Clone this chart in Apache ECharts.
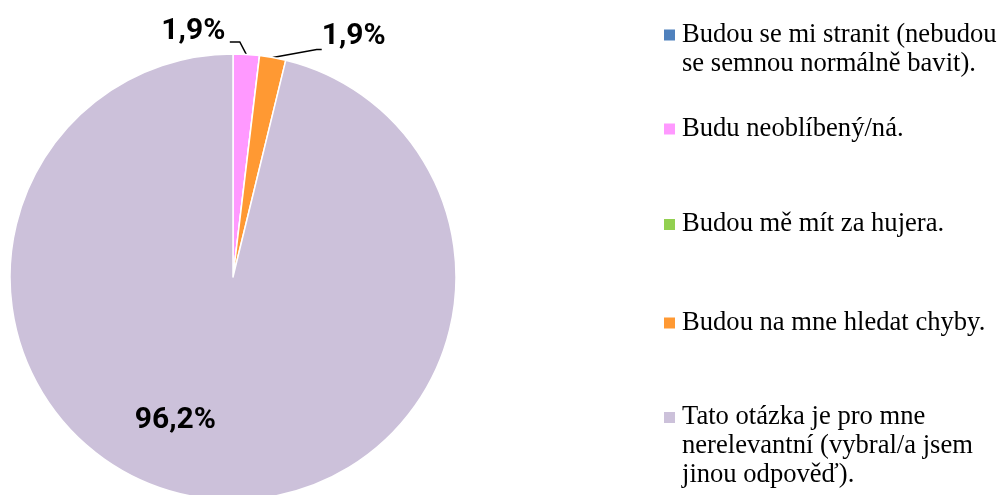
<!DOCTYPE html>
<html>
<head>
<meta charset="utf-8">
<script src="https://cdn.jsdelivr.net/npm/echarts@6/dist/echarts.min.js"></script>
<style>
  html, body { margin: 0; padding: 0; background: #fff; }
  #chart { width: 998px; height: 495px; }
</style>
</head>
<body>
<div id="chart"></div>
<script>
// Answer categories (line breaks as wrapped in the legend)
const categories = [
  'Budou se mi stranit (nebudou\nse semnou normálně bavit).',
  'Budu neoblíbený/ná.',
  'Budou mě mít za hujera.',
  'Budou na mne hledat chyby.',
  'Tato otázka je pro mne\nnerelevantní (vybral/a jsem\njinou odpověď).'
];
// Share of respondents, in percent
const shares = [0, 1.9, 0, 1.9, 96.2];
const colors = ['#4F81BD', '#FF99FF', '#92D050', '#FF9933', '#CCC1DA'];

// Legend layout: vertical centre of each entry's first line
const legendRowCenters = [35, 129, 224.5, 323, 417.5];
const LINE_H = 29;

const chart = echarts.init(document.getElementById('chart'), null, { renderer: 'canvas' });

const legends = categories.map((name, i) => {
  const n = name.split('\n').length;
  // pad with blank lines above so the marker sits beside the first line
  const textH = (2 * n - 1) * LINE_H;
  return {
    data: [name],
    orient: 'vertical',
    left: 662,
    top: legendRowCenters[i] - textH / 2,
    padding: 0,
    itemWidth: 13,
    itemHeight: 13,
    icon: 'rect',
    selectedMode: false,
    formatter: nm => '\n'.repeat(n - 1) + nm,
    textStyle: {
      fontFamily: 'Liberation Serif',
      fontSize: 26.6,
      lineHeight: LINE_H,
      color: '#000',
      padding: [0, 0, 0, 1]
    }
  };
});

const fmt = v => v.toFixed(1).replace('.', ',') + '%';

chart.setOption({
  animation: false,
  color: colors,
  legend: legends,
  series: [{
    type: 'pie',
    center: [233, 277],
    radius: 223,
    startAngle: 90,
    clockwise: true,
    minShowLabelAngle: 1,
    avoidLabelOverlap: false,
    itemStyle: { borderColor: '#fff', borderWidth: 1.5 },
    label: {
      show: true,
      formatter: p => fmt(p.value),
      fontFamily: 'Roboto',
      fontWeight: 'bold',
      fontSize: 30,
      color: '#000'
    },
    labelLine: {
      show: true,
      length: 12,
      length2: 10,
      lineStyle: { color: '#000', width: 1.5 }
    },
    labelLayout: function (p) {
      if (p.dataIndex === 4) {
        return { dx: -44, dy: 30 };
      }
      const pts = p.labelLinePoints;
      if (!pts || !pts.length) return {};
      const a = [pts[0][0], pts[0][1]];
      if (p.dataIndex === 1) {
        return {
          x: a[0] - 21, y: a[1] - 23, align: 'right', verticalAlign: 'middle',
          labelLinePoints: [a, [a[0] - 6.5, a[1] - 12.5], [a[0] - 16.5, a[1] - 12.5]]
        };
      }
      if (p.dataIndex === 3) {
        return {
          x: a[0] + 49, y: a[1] - 21, align: 'left', verticalAlign: 'middle',
          labelLinePoints: [a, [a[0] + 44, a[1] - 8], [a[0] + 49, a[1] - 8]]
        };
      }
      return {};
    },
    data: categories.map((name, i) => {
      const item = { name, value: shares[i], itemStyle: { color: colors[i] } };
      if (i === 4) {
        item.label = { position: 'inside' };
        item.labelLine = { show: false };
      }
      return item;
    })
  }]
});
</script>
</body>
</html>
